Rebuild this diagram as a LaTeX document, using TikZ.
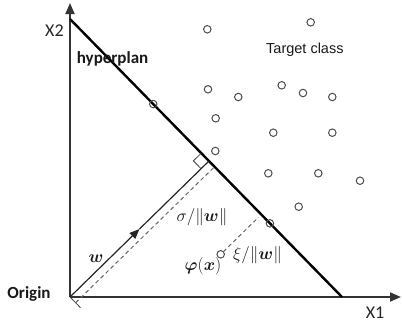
\documentclass[tikz,border=0pt]{standalone}
\usepackage[no-math]{fontspec}
\usepackage{amsmath,bm}
\setmainfont{Carlito}
\newfontfamily\arialfont{Liberation Sans}
\usetikzlibrary{arrows.meta,calc}

\begin{document}
\begin{tikzpicture}[x=1pt, y=-1pt,
        axis-l/.style={draw=black!80, line width=1.8pt, -{Triangle[length=11pt, width=9pt]}},
        data-pt/.style={circle, draw=black!70, line width=1pt, minimum size=7.5pt, inner sep=0, outer sep=0},
        dim-l/.style={draw=black!60, line width=1pt, dash pattern=on 4pt off 3pt},
        axis-t/.style={font=\fontsize{18}{18}\selectfont, text=black!85, inner sep=0},
        bold-t/.style={font=\fontsize{17}{17}\selectfont\bfseries, text=black!90, inner sep=0},
        math-t/.style={font=\fontsize{17}{17}\selectfont, text=black!90, inner sep=0}]

        \useasboundingbox (0,0) rectangle (402,325);

        \coordinate (o) at (70,297);
        \coordinate (y-tip) at (70,3);
        \coordinate (x-tip) at (401,297);
        \coordinate (hyp-a) at (70,19);
        \coordinate (hyp-b) at (342,297);
        \coordinate (foot) at ($(hyp-a)!(o)!(hyp-b)$);
        \coordinate (w-mid) at ($(o)!0.5!(foot)$);

        \draw[axis-l] (o) -- (y-tip);

        \draw[axis-l] (o) -- (x-tip);

        \draw[line width=2.4pt] (hyp-a) -- (hyp-b);

        \draw[black!85, line width=1.2pt, -{Triangle[length=10pt, width=8pt]}] (o) -- (w-mid);

        \draw[black!85, line width=1.2pt] (w-mid) -- (foot);

        \coordinate (ra-1) at ($(foot)!11pt!(o)$);
        \coordinate (ra-2) at ($(foot)!11pt!(hyp-a)$);
        \coordinate (ra-3) at ($(ra-1)+(ra-2)-(foot)$);
        \draw[black!75, line width=0.8pt] (ra-1) -- (ra-3) -- (ra-2);

        \coordinate (tick) at ($(o)!15pt!-90:(foot)$);
        \draw[black!75, line width=0.8pt] (o) -- (tick);

        \coordinate (dim-a) at ($(o)!8pt!-90:(foot)$);
        \coordinate (dim-b) at ($(foot)!8pt!90:(o)$);
        \draw[dim-l] (dim-a) -- (dim-b);

        \foreach \px/\py [count=\i] in {207.3/29.3, 310.7/22.3, 208/89.3, 238.3/97, 281.7/85.3, 303/93, 332.3/97, 215.7/118.3, 273.3/132.7, 332.3/132.7, 215.3/151, 268.3/173.3, 318.3/173.3, 360/180.7, 298.7/206.7}
          \node[data-pt] (p-\i) at (\px,\py) {};

        \node[data-pt] (hp-1) at ($(hyp-a)!0.306!(hyp-b)$) {};

        \node[data-pt] (hp-2) at ($(hyp-a)!0.735!(hyp-b)$) {};

        \node[data-pt] (phi) at (220.7,254.3) {};

        \coordinate (phi-proj) at ($(hyp-a)!(phi)!(hyp-b)$);
        \draw[dim-l, shorten >=4pt] (phi) -- (phi-proj);

        \node[axis-t, anchor=base west] (x2) at (45,36) {X2};

        \node[axis-t, anchor=base west] (x1) at (365.7,318) {X1};

        \node[bold-t, anchor=base west] (hyp-t) at (76.7,63.3) {hyperplan};

        \node[bold-t, anchor=base west] (orig) at (7.3,298) {Origin};

        \node[anchor=base west, inner sep=0, text=black!90, font=\arialfont\fontsize{14.5}{14.5}\selectfont] (target) at (266,53.3) {Target class};

        \node[math-t] (w-t) at (96,259) {$\bm{w}$};

        \node[math-t] (sigma-t) at (202,217) {$\sigma/\|\bm{w}\|$};

        \node[math-t] (phi-t) at (203,266) {$\bm{\varphi}(\bm{x})$};

        \node[math-t] (xi-t) at (257.5,255) {$\xi/\|\bm{w}\|$};
      \end{tikzpicture}
\end{document}
